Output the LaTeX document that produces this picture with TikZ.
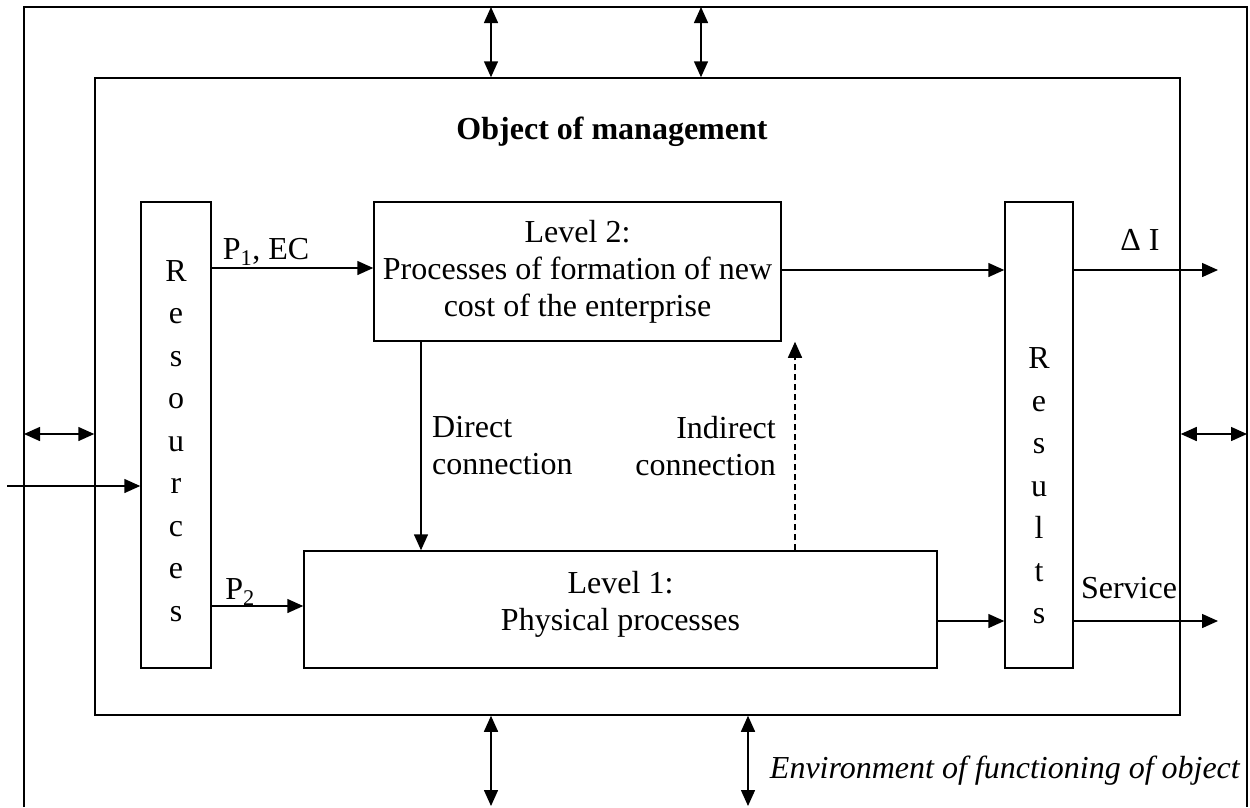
\documentclass[tikz,border=0pt]{standalone}
\usepackage{fontspec}
\setmainfont{Liberation Serif}
\usetikzlibrary{arrows.meta}
\tikzset{
 box/.style={draw, line width=1.5pt, inner sep=0pt},
 arr/.style={line width=1.5pt, -{Triangle[length=16pt,width=14pt]}},
 darr/.style={line width=1.5pt, {Triangle[length=16pt,width=14pt]}-{Triangle[length=16pt,width=14pt]}},
 lbl/.style={inner sep=0pt, font=\fontsize{32}{37}\selectfont},
 vlbl/.style={inner sep=0pt, align=center, font=\fontsize{32}{42.5}\selectfont},
}
\begin{document}
\begin{tikzpicture}[x=1pt,y=-1pt]
\useasboundingbox (0,0) rectangle (1250,807);
% environment frame
\coordinate (eBL) at (24,807);
\coordinate (eTL) at (24,7);
\coordinate (eTR) at (1247,7);
\coordinate (eBR) at (1247,807);
\draw[line width=1.5pt] (eBL) -- (eTL) -- (eTR) -- (eBR);
% object of management
\node[box, minimum width=1085pt, minimum height=637pt] (obj) at (637.5,396.5) {};
\node[lbl, font=\fontsize{32}{37}\selectfont\bfseries] (objt) at (612,132) {Object of management};
% boxes
\node[box, minimum width=70pt, minimum height=466pt] (res) at (176,435) {};
\node[vlbl] (rest) at (176,441) {R\\e\\s\\o\\u\\r\\c\\e\\s};
\node[box, minimum width=68pt, minimum height=466pt] (rsl) at (1039,435) {};
\node[vlbl] (rslt) at (1039,486) {R\\e\\s\\u\\l\\t\\s};
\node[box, lbl, align=center, minimum width=407pt, minimum height=139pt] (lv2) at (577.5,271.5) {Level 2:\\Processes of formation of new\\cost of the enterprise};
\node[box, minimum width=633pt, minimum height=117pt] (lv1) at (620.5,609.5) {};
\node[lbl, align=center] (lv1t) at (620.5,604) {Level 1:\\Physical processes};
% exchange arrows with environment
\coordinate (t1) at (491,7);
\coordinate (t2) at (701,7);
\draw[darr] (t1) -- (t1 |- obj.north);
\draw[darr] (t2) -- (t2 |- obj.north);
\coordinate (b1) at (491,806);
\coordinate (b2) at (748,806);
\draw[darr] (b1 |- obj.south) -- (b1);
\draw[darr] (b2 |- obj.south) -- (b2);
\coordinate (l1) at (24,434);
\draw[darr] (l1) -- (l1 -| obj.west);
\coordinate (r1) at (1247,434);
\draw[darr] (r1 -| obj.east) -- (r1);
\coordinate (in) at (7,486);
\draw[arr] (in) -- (in -| res.west);
% internal flows
\coordinate (y268) at (0,268);
\draw[arr] (y268 -| res.east) -- (y268 -| lv2.west);
\coordinate (y270) at (0,270);
\draw[arr] (y270 -| lv2.east) -- (y270 -| rsl.west);
\coordinate (dI) at (1218,270);
\draw[arr] (dI -| rsl.east) -- (dI);
\coordinate (y606) at (0,606);
\draw[arr] (y606 -| res.east) -- (y606 -| lv1.west);
\coordinate (y621) at (0,621);
\draw[arr] (y621 -| lv1.east) -- (y621 -| rsl.west);
\coordinate (sv) at (1218,621);
\draw[arr] (sv -| rsl.east) -- (sv);
\coordinate (x421) at (421,0);
\draw[arr] (x421 |- lv2.south) -- (x421 |- lv1.north);
\coordinate (x795) at (795,0);
\draw[arr, dash pattern=on 6pt off 4pt] (x795 |- lv1.north) -- (x795 |- lv2.south);
% labels
\node[lbl] (lp1) at (266,252) {P\textsubscript{1}, EC};
\node[lbl] (ldi) at (1140,240) {Δ I};
\node[lbl] (lp2) at (240,592) {P\textsubscript{2}};
\node[lbl] (lsv) at (1129,588) {Service};
\node[lbl, align=left, anchor=west] (ldc) at (432,446) {Direct\\connection};
\node[lbl, align=right, anchor=east] (lic) at (776,446) {Indirect\\connection};
\node[lbl, anchor=east, font=\fontsize{32}{37}\selectfont\itshape] (lenv) at (1240,771) {Environment of functioning of object};
\end{tikzpicture}
\end{document}
